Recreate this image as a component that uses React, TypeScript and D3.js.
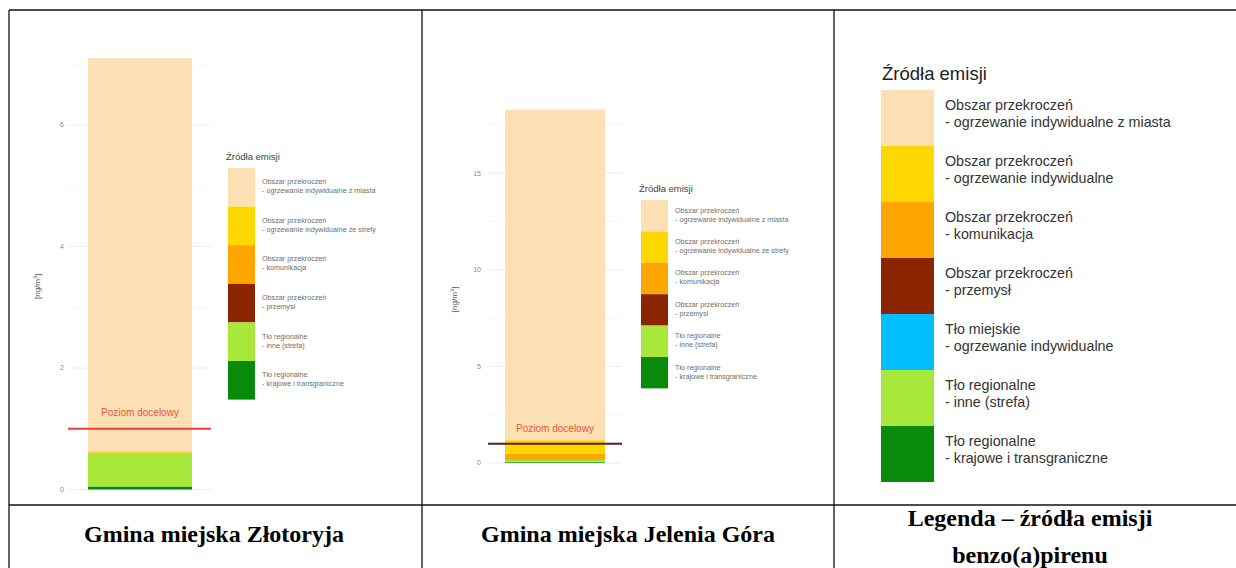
import * as d3 from 'd3';

// source keys, stacked bottom -> top
const KEYS = ['krajowe', 'inne', 'przemysl', 'komunikacja', 'strefa', 'miasto'];

const COLORS: Record<string, string> = {
  miasto: '#fde0b4',
  strefa: '#ffd700',
  komunikacja: '#ffa500',
  przemysl: '#8b2500',
  miejskie: '#00bfff',
  inne: '#a8e83a',
  krajowe: '#0a8a0a',
};

// values in ng/m3, same order as KEYS
const ZLOTORYJA_VALUES = [0.05, 0.55, 0, 0.01, 0.02, 6.47];
const JELENIA_VALUES = [0.04, 0.12, 0.02, 0.3, 0.7, 17.1];

const ZLOTORYJA_TICKS = [0, 2, 4, 6];
const JELENIA_TICKS = [0, 5, 10, 15];
const TARGET = 1;

// small in-chart legends (top -> bottom)
const CHART_LEGEND_KEYS = ['miasto', 'strefa', 'komunikacja', 'przemysl', 'inne', 'krajowe'];
const CHART_LEGEND_LABELS = [
  ['Obszar przekroczeń', '- ogrzewanie indywidualne z miasta'],
  ['Obszar przekroczeń', '- ogrzewanie indywidualne ze strefy'],
  ['Obszar przekroczeń', '- komunikacja'],
  ['Obszar przekroczeń', '- przemysł'],
  ['Tło regionalne', '- inne (strefa)'],
  ['Tło regionalne', '- krajowe i transgraniczne'],
];

// big legend column
const MAIN_LEGEND_KEYS = ['miasto', 'strefa', 'komunikacja', 'przemysl', 'miejskie', 'inne', 'krajowe'];
const MAIN_LEGEND_LABELS = [
  ['Obszar przekroczeń', '- ogrzewanie indywidualne z miasta'],
  ['Obszar przekroczeń', '- ogrzewanie indywidualne'],
  ['Obszar przekroczeń', '- komunikacja'],
  ['Obszar przekroczeń', '- przemysł'],
  ['Tło miejskie', '- ogrzewanie indywidualne'],
  ['Tło regionalne', '- inne (strefa)'],
  ['Tło regionalne', '- krajowe i transgraniczne'],
];

const SANS = 'Liberation Sans, Arial, sans-serif';
const SERIF = 'Liberation Serif, Times New Roman, serif';

type ChartProps = {
  values: number[];
  ticks: number[];
  domainMax: number;
  y0: number;
  y1: number;
  barX: [number, number];
  gridX: [number, number];
  tickX: number;
  labelX: number;
  targetColor: string;
  targetLabelY: number;
  legendX: number;
  legendY: number;
  legendRow: number;
};

function StackChart(p: ChartProps) {
  const y = d3.scaleLinear().domain([0, p.domainMax]).range([p.y0, p.y1]);
  const row: any = {};
  KEYS.forEach((k, i) => (row[k] = p.values[i]));
  const series = d3.stack<any>().keys(KEYS)([row]);
  const minor = d3.range(p.ticks[0] + (p.ticks[1] - p.ticks[0]) / 2, p.domainMax, p.ticks[1] - p.ticks[0]);
  const midX = (p.barX[0] + p.barX[1]) / 2;

  return (
    <g>
      {minor.map(t => (
        <line key={'m' + t} x1={p.gridX[0]} x2={p.gridX[1]} y1={y(t)} y2={y(t)} stroke="#f6f6f6" />
      ))}
      {p.ticks.map(t => (
        <g key={t}>
          <line x1={p.gridX[0]} x2={p.gridX[1]} y1={y(t)} y2={y(t)} stroke="#ececec" />
          <text x={p.tickX} y={y(t)} dy="0.35em" textAnchor="end" fontSize={7} fill="#8a8a8a" fontFamily={SANS}>
            {t}
          </text>
        </g>
      ))}
      {series.map(s => (
        <rect
          key={s.key}
          x={p.barX[0]}
          width={p.barX[1] - p.barX[0]}
          y={y(s[0][1])}
          height={Math.max(0, y(s[0][0]) - y(s[0][1]))}
          fill={COLORS[s.key]}
        />
      ))}
      <line x1={p.gridX[0]} x2={p.gridX[1]} y1={y(TARGET)} y2={y(TARGET)} stroke={p.targetColor} strokeWidth={2} />
      <text x={midX} y={p.targetLabelY} textAnchor="middle" fontSize={10} fill="#e8553e" fontFamily={SANS}>
        Poziom docelowy
      </text>
      <text
        transform={`translate(${p.labelX},${(p.y0 + y(p.domainMax)) / 2 + 20}) rotate(-90)`}
        textAnchor="middle"
        fontSize={8}
        fill="#555"
        fontFamily={SANS}
      >
        [ng/m<tspan dy={-3} fontSize={6}>3</tspan><tspan dy={3}>]</tspan>
      </text>
      <text x={p.legendX - 2} y={p.legendY - 8} fontSize={9.5} fill="#444" fontFamily={SANS}>
        Źródła emisji
      </text>
      {CHART_LEGEND_KEYS.map((k, i) => (
        <g key={k} transform={`translate(${p.legendX},${p.legendY + i * p.legendRow})`}>
          <rect width={27} height={p.legendRow} fill={COLORS[k]} />
          <text x={34} y={p.legendRow / 2 - 3} fontSize={7.2} fill="#6e6e6e" fontFamily={SANS}>
            {CHART_LEGEND_LABELS[i][0]}
          </text>
          <text x={34} y={p.legendRow / 2 + 6} fontSize={7.2} fill="#6e6e6e" fontFamily={SANS}>
            {CHART_LEGEND_LABELS[i][1]}
          </text>
        </g>
      ))}
    </g>
  );
}

export default function App() {
  const W = 1236;
  const H = 568;
  const colX = [9, 422, 834];
  const rowY = 505;
  const legendRow = 56;

  return (
    <svg width={W} height={H} style={{ position: 'absolute', left: 0, top: 0, background: '#fff' }}>
      <rect width={W} height={H} fill="#fff" />

      {/* Złotoryja */}
      <StackChart
        values={ZLOTORYJA_VALUES}
        ticks={ZLOTORYJA_TICKS}
        domainMax={7.35}
        y0={489.5}
        y1={489.5 - 7.35 * 60.75}
        barX={[88, 192]}
        gridX={[68, 211]}
        tickX={64}
        labelX={40}
        targetColor="#e8413c"
        targetLabelY={416}
        legendX={228}
        legendY={168}
        legendRow={38.6}
      />

      {/* Jelenia Góra */}
      <StackChart
        values={JELENIA_VALUES}
        ticks={JELENIA_TICKS}
        domainMax={19}
        y0={463}
        y1={463 - 19 * 19.33}
        barX={[505, 605]}
        gridX={[488, 622]}
        tickX={481}
        labelX={457}
        targetColor="#5a1f1f"
        targetLabelY={432}
        legendX={641}
        legendY={200}
        legendRow={31.4}
      />

      {/* main legend */}
      <text x={882} y={80} fontSize={18.5} fill="#222" fontFamily={SANS}>
        Źródła emisji
      </text>
      {MAIN_LEGEND_KEYS.map((k, i) => (
        <g key={k} transform={`translate(881,${90 + i * legendRow})`}>
          <rect width={53} height={legendRow} fill={COLORS[k]} />
          <text x={64} y={20} fontSize={14.3} fill="#333" fontFamily={SANS}>
            {MAIN_LEGEND_LABELS[i][0]}
          </text>
          <text x={64} y={37} fontSize={14.3} fill="#333" fontFamily={SANS}>
            {MAIN_LEGEND_LABELS[i][1]}
          </text>
        </g>
      ))}

      {/* table grid */}
      <g stroke="#111" strokeWidth={1.3}>
        <line x1={colX[0]} x2={W} y1={10} y2={10} />
        <line x1={colX[0]} x2={W} y1={rowY} y2={rowY} />
        {colX.map(x => (
          <line key={x} x1={x} x2={x} y1={10} y2={H} />
        ))}
      </g>

      {/* captions */}
      <g fontFamily={SERIF} fontWeight="bold" fontSize={24} fill="#000" textAnchor="middle">
        <text x={214} y={542}>Gmina miejska Złotoryja</text>
        <text x={628} y={542}>Gmina miejska Jelenia Góra</text>
        <text x={1030} y={526}>Legenda – źródła emisji</text>
        <text x={1030} y={563}>benzo(a)pirenu</text>
      </g>
    </svg>
  );
}
